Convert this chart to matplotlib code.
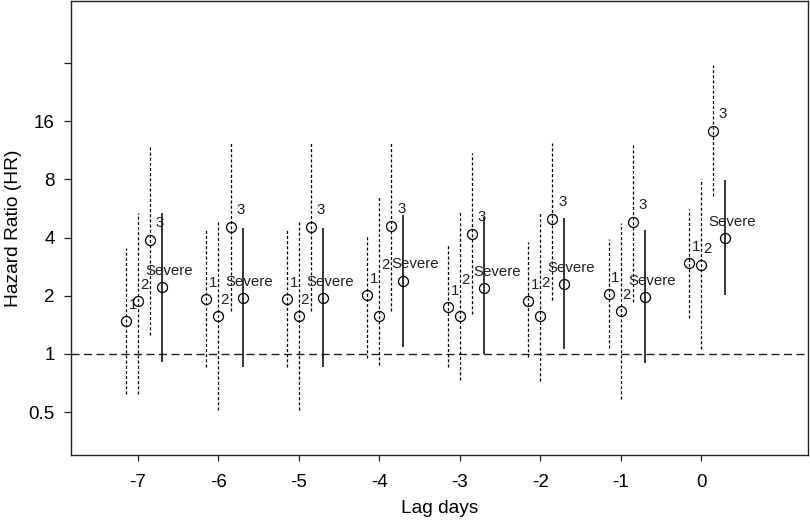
import matplotlib
matplotlib.use("Agg")
import matplotlib.pyplot as plt
import numpy as np

plt.rcParams['font.family'] = ['Liberation Sans', 'DejaVu Sans']
plt.rcParams['lines.scale_dashes'] = False

lags = [-7, -6, -5, -4, -3, -2, -1, 0]
groups = ["1", "2", "3", "Severe"]

hr_1 = [1.48, 1.92, 1.92, 2.02, 1.75, 1.87, 2.04, 2.94]
lo_1 = [0.62, 0.857, 0.857, 0.95, 0.85, 0.965, 1.07, 1.53]
hi_1 = [3.53, 4.37, 4.37, 4.12, 3.65, 3.79, 3.92, 5.6]

hr_2 = [1.88, 1.57, 1.57, 1.57, 1.57, 1.57, 1.67, 2.9]
lo_2 = [0.62, 0.51, 0.51, 0.877, 0.734, 0.726, 0.585, 1.06]
hi_2 = [5.35, 4.8, 4.8, 6.47, 5.41, 5.35, 4.75, 8.0]

hr_3 = [3.88, 4.51, 4.51, 4.58, 4.17, 4.98, 4.82, 14.2]
lo_3 = [1.25, 1.67, 1.67, 1.67, 1.61, 1.9, 1.86, 6.54]
hi_3 = [12.0, 12.3, 12.3, 12.3, 10.9, 12.3, 12.4, 31.4]

hr_s = [2.21, 1.95, 1.95, 2.39, 2.2, 2.3, 1.98, 4.0]
lo_s = [0.91, 0.85, 0.85, 1.087, 1.0, 1.06, 0.9, 2.02]
hi_s = [5.35, 4.47, 4.47, 5.22, 5.1, 5.04, 4.37, 7.9]

y_ticks = [0.5, 1, 2, 4, 8, 16, 32]
y_ticklabels = ["0.5", "1", "2", "4", "8", "16", ""]

# layout / style (not data)
x_offsets = [-0.15, 0.0, 0.15, 0.30]
line_styles = [(0, (2.2, 1.5)), (0, (2.2, 1.5)), (0, (2.2, 1.5)), 'solid']
line_widths = [0.9, 0.9, 0.9, 1.1]
default_off = {"1": (7, 16), "2": (6, 16), "3": (10, 17), "Severe": (7, 16)}
special_off = {(-4, "2"): (6, 51), (-4, "Severe"): (12, 17),
               (-3, "2"): (6, 36), (-3, "Severe"): (13, 16),
               (-2, "2"): (5, 33)}

series = [(hr_1, lo_1, hi_1), (hr_2, lo_2, hi_2), (hr_3, lo_3, hi_3), (hr_s, lo_s, hi_s)]

fig = plt.figure(figsize=(8.1, 5.2), dpi=100)
ax = fig.add_axes([0.0873, 0.125, 0.9102, 0.873])

ax.axhline(1, color='#222222', lw=1.0, linestyle=(0, (5.8, 3.2)), zorder=1)

for gi, (name, (hr, lo, hi)) in enumerate(zip(groups, series)):
    xs = np.array(lags, dtype=float) + x_offsets[gi]
    ax.vlines(xs, lo, hi, colors='black', linestyles=line_styles[gi],
              linewidth=line_widths[gi], zorder=2)
    ax.plot(xs, hr, linestyle='none', marker='o', markersize=7.2,
            markerfacecolor='none', markeredgecolor='black',
            markeredgewidth=0.9, zorder=3)
    for lag, x, y in zip(lags, xs, hr):
        dx, dy = special_off.get((lag, name), default_off[name])
        ax.annotate(name, (x, y), xytext=(dx, dy), textcoords='offset pixels',
                    ha='center', va='center', fontsize=10.8, color='#222222')

ax.set_yscale('log', base=2)
ax.set_ylim(0.2996, 67)
ax.set_xlim(-7.837, 1.33)
ax.set_yticks(y_ticks)
ax.set_yticklabels(y_ticklabels)
ax.yaxis.set_minor_locator(matplotlib.ticker.NullLocator())
ax.set_xticks(lags)
ax.set_xticklabels([str(l) for l in lags])

ax.tick_params(axis='y', length=5, width=0.9, pad=6.5, labelsize=13.5, color='#222222')
ax.tick_params(axis='x', length=4.5, width=0.9, pad=9, labelsize=13.5, color='#222222')

for s in ax.spines.values():
    s.set_linewidth(1.0)
    s.set_color('#222222')

ax.set_ylabel("Hazard Ratio (HR)", fontsize=13.8)
ax.set_xlabel("Lag days", fontsize=13.8)
ax.yaxis.set_label_coords(-0.078, 0.5)
ax.xaxis.set_label_coords(0.5, -0.117)
ax.xaxis.label.set_va('center')
ax.yaxis.label.set_va('center')

fig.savefig("out.png", dpi=100)
